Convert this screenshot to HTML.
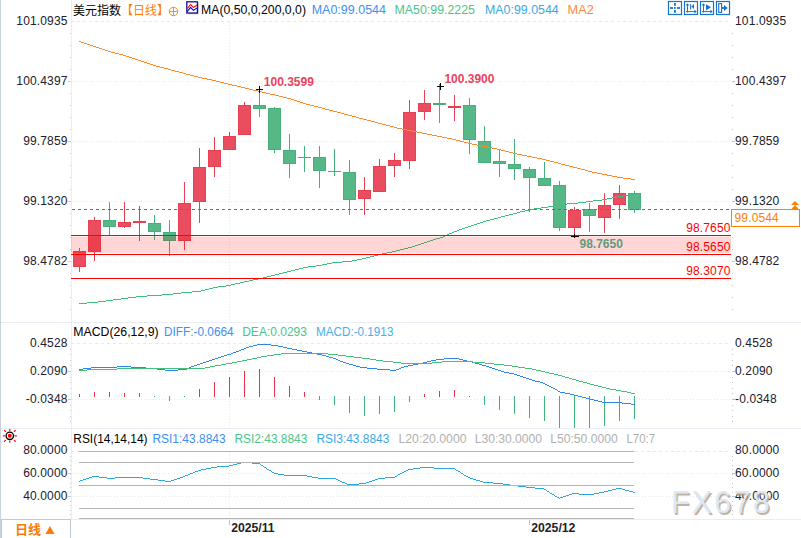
<!DOCTYPE html>
<html><head><meta charset="utf-8"><title>美元指数</title>
<style>
html,body{margin:0;padding:0;background:#fff;}
body{width:801px;height:538px;overflow:hidden;position:relative;}
svg{position:absolute;left:0;top:0;display:block;}
</style></head><body>
<svg width="801" height="538" viewBox="0 0 801 538" shape-rendering="crispEdges">
<rect x="0" y="0" width="1" height="538" fill="#c9d3dd"/>
<rect x="1" y="322" width="800" height="1" fill="#e8eef3"/>
<rect x="1" y="428" width="800" height="1" fill="#e8eef3"/>
<rect x="71" y="519" width="730" height="1" fill="#e8eef3"/>
<rect x="71" y="0" width="1" height="519" fill="#e9eef3"/>
<rect x="70" y="33" width="1" height="1" fill="#c5ced6"/>
<rect x="70" y="45" width="1" height="1" fill="#c5ced6"/>
<rect x="70" y="57" width="1" height="1" fill="#c5ced6"/>
<rect x="70" y="69" width="1" height="1" fill="#c5ced6"/>
<rect x="70" y="81" width="1" height="1" fill="#c5ced6"/>
<rect x="70" y="93" width="1" height="1" fill="#c5ced6"/>
<rect x="70" y="105" width="1" height="1" fill="#c5ced6"/>
<rect x="70" y="117" width="1" height="1" fill="#c5ced6"/>
<rect x="70" y="129" width="1" height="1" fill="#c5ced6"/>
<rect x="70" y="141" width="1" height="1" fill="#c5ced6"/>
<rect x="70" y="153" width="1" height="1" fill="#c5ced6"/>
<rect x="70" y="165" width="1" height="1" fill="#c5ced6"/>
<rect x="70" y="177" width="1" height="1" fill="#c5ced6"/>
<rect x="70" y="189" width="1" height="1" fill="#c5ced6"/>
<rect x="70" y="201" width="1" height="1" fill="#c5ced6"/>
<rect x="70" y="213" width="1" height="1" fill="#c5ced6"/>
<rect x="70" y="225" width="1" height="1" fill="#c5ced6"/>
<rect x="70" y="237" width="1" height="1" fill="#c5ced6"/>
<rect x="70" y="249" width="1" height="1" fill="#c5ced6"/>
<rect x="70" y="261" width="1" height="1" fill="#c5ced6"/>
<rect x="70" y="273" width="1" height="1" fill="#c5ced6"/>
<rect x="70" y="285" width="1" height="1" fill="#c5ced6"/>
<rect x="70" y="297" width="1" height="1" fill="#c5ced6"/>
<rect x="70" y="309" width="1" height="1" fill="#c5ced6"/>
<rect x="70" y="349" width="1" height="1" fill="#c5ced6"/>
<rect x="70" y="354" width="1" height="1" fill="#c5ced6"/>
<rect x="70" y="360" width="1" height="1" fill="#c5ced6"/>
<rect x="70" y="365" width="1" height="1" fill="#c5ced6"/>
<rect x="70" y="371" width="1" height="1" fill="#c5ced6"/>
<rect x="70" y="377" width="1" height="1" fill="#c5ced6"/>
<rect x="70" y="382" width="1" height="1" fill="#c5ced6"/>
<rect x="70" y="388" width="1" height="1" fill="#c5ced6"/>
<rect x="70" y="393" width="1" height="1" fill="#c5ced6"/>
<rect x="70" y="399" width="1" height="1" fill="#c5ced6"/>
<rect x="70" y="405" width="1" height="1" fill="#c5ced6"/>
<rect x="70" y="410" width="1" height="1" fill="#c5ced6"/>
<rect x="70" y="416" width="1" height="1" fill="#c5ced6"/>
<rect x="70" y="421" width="1" height="1" fill="#c5ced6"/>
<rect x="70" y="456" width="1" height="1" fill="#c5ced6"/>
<rect x="70" y="460" width="1" height="1" fill="#c5ced6"/>
<rect x="70" y="465" width="1" height="1" fill="#c5ced6"/>
<rect x="70" y="469" width="1" height="1" fill="#c5ced6"/>
<rect x="70" y="474" width="1" height="1" fill="#c5ced6"/>
<rect x="70" y="478" width="1" height="1" fill="#c5ced6"/>
<rect x="70" y="483" width="1" height="1" fill="#c5ced6"/>
<rect x="70" y="487" width="1" height="1" fill="#c5ced6"/>
<rect x="70" y="492" width="1" height="1" fill="#c5ced6"/>
<rect x="70" y="496" width="1" height="1" fill="#c5ced6"/>
<rect x="70" y="501" width="1" height="1" fill="#c5ced6"/>
<rect x="70" y="505" width="1" height="1" fill="#c5ced6"/>
<rect x="70" y="510" width="1" height="1" fill="#c5ced6"/>
<rect x="70" y="514" width="1" height="1" fill="#c5ced6"/>
<rect x="68" y="81" width="3" height="1" fill="#c5ced6"/>
<rect x="68" y="141" width="3" height="1" fill="#c5ced6"/>
<rect x="68" y="201" width="3" height="1" fill="#c5ced6"/>
<rect x="68" y="261" width="3" height="1" fill="#c5ced6"/>
<rect x="68" y="371" width="3" height="1" fill="#c5ced6"/>
<rect x="68" y="399" width="3" height="1" fill="#c5ced6"/>
<rect x="68" y="473" width="3" height="1" fill="#c5ced6"/>
<rect x="68" y="496" width="3" height="1" fill="#c5ced6"/>
<rect x="732" y="33" width="1" height="1" fill="#b8c2cc"/>
<rect x="732" y="45" width="1" height="1" fill="#b8c2cc"/>
<rect x="732" y="57" width="1" height="1" fill="#b8c2cc"/>
<rect x="732" y="69" width="1" height="1" fill="#b8c2cc"/>
<rect x="732" y="81" width="1" height="1" fill="#b8c2cc"/>
<rect x="732" y="93" width="1" height="1" fill="#b8c2cc"/>
<rect x="732" y="105" width="1" height="1" fill="#b8c2cc"/>
<rect x="732" y="117" width="1" height="1" fill="#b8c2cc"/>
<rect x="732" y="129" width="1" height="1" fill="#b8c2cc"/>
<rect x="732" y="141" width="1" height="1" fill="#b8c2cc"/>
<rect x="732" y="153" width="1" height="1" fill="#b8c2cc"/>
<rect x="732" y="165" width="1" height="1" fill="#b8c2cc"/>
<rect x="732" y="177" width="1" height="1" fill="#b8c2cc"/>
<rect x="732" y="189" width="1" height="1" fill="#b8c2cc"/>
<rect x="732" y="201" width="1" height="1" fill="#b8c2cc"/>
<rect x="732" y="213" width="1" height="1" fill="#b8c2cc"/>
<rect x="732" y="225" width="1" height="1" fill="#b8c2cc"/>
<rect x="732" y="237" width="1" height="1" fill="#b8c2cc"/>
<rect x="732" y="249" width="1" height="1" fill="#b8c2cc"/>
<rect x="732" y="261" width="1" height="1" fill="#b8c2cc"/>
<rect x="732" y="273" width="1" height="1" fill="#b8c2cc"/>
<rect x="732" y="285" width="1" height="1" fill="#b8c2cc"/>
<rect x="732" y="297" width="1" height="1" fill="#b8c2cc"/>
<rect x="732" y="309" width="1" height="1" fill="#b8c2cc"/>
<rect x="732" y="81" width="3" height="1" fill="#b8c2cc"/>
<rect x="732" y="141" width="3" height="1" fill="#b8c2cc"/>
<rect x="732" y="201" width="3" height="1" fill="#b8c2cc"/>
<rect x="732" y="261" width="3" height="1" fill="#b8c2cc"/>
<rect x="732" y="371" width="3" height="1" fill="#b8c2cc"/>
<rect x="732" y="399" width="3" height="1" fill="#b8c2cc"/>
<rect x="732" y="473" width="3" height="1" fill="#b8c2cc"/>
<rect x="732" y="496" width="3" height="1" fill="#b8c2cc"/>
<rect x="732" y="349" width="1" height="1" fill="#b8c2cc"/>
<rect x="732" y="354" width="1" height="1" fill="#b8c2cc"/>
<rect x="732" y="360" width="1" height="1" fill="#b8c2cc"/>
<rect x="732" y="365" width="1" height="1" fill="#b8c2cc"/>
<rect x="732" y="371" width="1" height="1" fill="#b8c2cc"/>
<rect x="732" y="377" width="1" height="1" fill="#b8c2cc"/>
<rect x="732" y="382" width="1" height="1" fill="#b8c2cc"/>
<rect x="732" y="388" width="1" height="1" fill="#b8c2cc"/>
<rect x="732" y="393" width="1" height="1" fill="#b8c2cc"/>
<rect x="732" y="399" width="1" height="1" fill="#b8c2cc"/>
<rect x="732" y="405" width="1" height="1" fill="#b8c2cc"/>
<rect x="732" y="410" width="1" height="1" fill="#b8c2cc"/>
<rect x="732" y="416" width="1" height="1" fill="#b8c2cc"/>
<rect x="732" y="421" width="1" height="1" fill="#b8c2cc"/>
<rect x="732" y="456" width="1" height="1" fill="#b8c2cc"/>
<rect x="732" y="460" width="1" height="1" fill="#b8c2cc"/>
<rect x="732" y="465" width="1" height="1" fill="#b8c2cc"/>
<rect x="732" y="469" width="1" height="1" fill="#b8c2cc"/>
<rect x="732" y="474" width="1" height="1" fill="#b8c2cc"/>
<rect x="732" y="478" width="1" height="1" fill="#b8c2cc"/>
<rect x="732" y="483" width="1" height="1" fill="#b8c2cc"/>
<rect x="732" y="487" width="1" height="1" fill="#b8c2cc"/>
<rect x="732" y="492" width="1" height="1" fill="#b8c2cc"/>
<rect x="732" y="496" width="1" height="1" fill="#b8c2cc"/>
<rect x="732" y="501" width="1" height="1" fill="#b8c2cc"/>
<rect x="732" y="505" width="1" height="1" fill="#b8c2cc"/>
<rect x="732" y="510" width="1" height="1" fill="#b8c2cc"/>
<rect x="732" y="514" width="1" height="1" fill="#b8c2cc"/>
<line x1="71" y1="21.5" x2="730" y2="21.5" stroke="#e3e9ef" stroke-width="1" stroke-dasharray="3 3"/>
<line x1="71" y1="343.5" x2="730" y2="343.5" stroke="#e3e9ef" stroke-width="1" stroke-dasharray="3 3"/>
<line x1="71" y1="451.5" x2="730" y2="451.5" stroke="#e3e9ef" stroke-width="1" stroke-dasharray="3 3"/>
<line x1="72" y1="81.5" x2="730" y2="81.5" stroke="#e4e9ee" stroke-width="1" stroke-dasharray="1 2"/>
<line x1="72" y1="141.5" x2="730" y2="141.5" stroke="#e4e9ee" stroke-width="1" stroke-dasharray="1 2"/>
<line x1="72" y1="201.5" x2="730" y2="201.5" stroke="#e4e9ee" stroke-width="1" stroke-dasharray="1 2"/>
<line x1="72" y1="261.5" x2="730" y2="261.5" stroke="#e4e9ee" stroke-width="1" stroke-dasharray="1 2"/>
<line x1="72" y1="371.5" x2="730" y2="371.5" stroke="#e4e9ee" stroke-width="1" stroke-dasharray="1 2"/>
<line x1="72" y1="399.5" x2="730" y2="399.5" stroke="#e4e9ee" stroke-width="1" stroke-dasharray="1 2"/>
<line x1="72" y1="473.5" x2="730" y2="473.5" stroke="#e4e9ee" stroke-width="1" stroke-dasharray="1 2"/>
<line x1="72" y1="496.5" x2="730" y2="496.5" stroke="#e4e9ee" stroke-width="1" stroke-dasharray="1 2"/>
<line x1="229.5" y1="22" x2="229.5" y2="322" stroke="#e1e7ed" stroke-width="1" stroke-dasharray="1 2"/>
<line x1="229.5" y1="344" x2="229.5" y2="428" stroke="#e1e7ed" stroke-width="1" stroke-dasharray="1 2"/>
<line x1="229.5" y1="452" x2="229.5" y2="519" stroke="#e1e7ed" stroke-width="1" stroke-dasharray="1 2"/>
<rect x="229" y="520" width="1" height="5" fill="#b8c2cc"/>
<rect x="529" y="520" width="1" height="5" fill="#b8c2cc"/>
<rect x="79" y="248" width="1" height="24" fill="#e8404f"/>
<rect x="73.5" y="251.5" width="12" height="15" fill="#ea4d5f" stroke="#e8404f" stroke-width="1"/>
<rect x="94" y="217" width="1" height="44" fill="#e8404f"/>
<rect x="88.5" y="220.5" width="12" height="31" fill="#ea4d5f" stroke="#e8404f" stroke-width="1"/>
<rect x="109" y="202" width="1" height="33" fill="#47af7a"/>
<rect x="103.5" y="220.5" width="12" height="6" fill="#55b886" stroke="#47af7a" stroke-width="1"/>
<rect x="124" y="202" width="1" height="26" fill="#e8404f"/>
<rect x="118.5" y="222.5" width="12" height="4" fill="#ea4d5f" stroke="#e8404f" stroke-width="1"/>
<rect x="139" y="206" width="1" height="35" fill="#e8404f"/>
<rect x="133" y="221" width="13" height="2" fill="#e8404f"/>
<rect x="154" y="215" width="1" height="25" fill="#47af7a"/>
<rect x="148.5" y="223.5" width="12" height="8" fill="#55b886" stroke="#47af7a" stroke-width="1"/>
<rect x="169" y="220" width="1" height="36" fill="#47af7a"/>
<rect x="163.5" y="232.5" width="12" height="8" fill="#55b886" stroke="#47af7a" stroke-width="1"/>
<rect x="184" y="182" width="1" height="68" fill="#e8404f"/>
<rect x="178.5" y="203.5" width="12" height="37" fill="#ea4d5f" stroke="#e8404f" stroke-width="1"/>
<rect x="199" y="148" width="1" height="75" fill="#e8404f"/>
<rect x="193.5" y="167.5" width="12" height="34" fill="#ea4d5f" stroke="#e8404f" stroke-width="1"/>
<rect x="214" y="137" width="1" height="40" fill="#e8404f"/>
<rect x="208.5" y="150.5" width="12" height="16" fill="#ea4d5f" stroke="#e8404f" stroke-width="1"/>
<rect x="229" y="132" width="1" height="18" fill="#e8404f"/>
<rect x="223.5" y="136.5" width="12" height="13" fill="#ea4d5f" stroke="#e8404f" stroke-width="1"/>
<rect x="244" y="102" width="1" height="33" fill="#e8404f"/>
<rect x="238.5" y="105.5" width="12" height="29" fill="#ea4d5f" stroke="#e8404f" stroke-width="1"/>
<rect x="259" y="90" width="1" height="27" fill="#47af7a"/>
<rect x="253.5" y="105.5" width="12" height="3" fill="#55b886" stroke="#47af7a" stroke-width="1"/>
<rect x="274" y="107" width="1" height="46" fill="#47af7a"/>
<rect x="268.5" y="108.5" width="12" height="41" fill="#55b886" stroke="#47af7a" stroke-width="1"/>
<rect x="289" y="134" width="1" height="44" fill="#47af7a"/>
<rect x="283.5" y="150.5" width="12" height="13" fill="#55b886" stroke="#47af7a" stroke-width="1"/>
<rect x="304" y="146" width="1" height="26" fill="#47af7a"/>
<rect x="298" y="157" width="13" height="1" fill="#47af7a"/>
<rect x="319" y="146" width="1" height="42" fill="#47af7a"/>
<rect x="313.5" y="157.5" width="12" height="13" fill="#55b886" stroke="#47af7a" stroke-width="1"/>
<rect x="334" y="149" width="1" height="27" fill="#47af7a"/>
<rect x="328" y="171" width="13" height="1" fill="#47af7a"/>
<rect x="349" y="160" width="1" height="55" fill="#47af7a"/>
<rect x="343.5" y="172.5" width="12" height="27" fill="#55b886" stroke="#47af7a" stroke-width="1"/>
<rect x="364" y="177" width="1" height="38" fill="#e8404f"/>
<rect x="358.5" y="190.5" width="12" height="8" fill="#ea4d5f" stroke="#e8404f" stroke-width="1"/>
<rect x="379" y="159" width="1" height="33" fill="#e8404f"/>
<rect x="373.5" y="166.5" width="12" height="25" fill="#ea4d5f" stroke="#e8404f" stroke-width="1"/>
<rect x="394" y="153" width="1" height="24" fill="#e8404f"/>
<rect x="388.5" y="160.5" width="12" height="5" fill="#ea4d5f" stroke="#e8404f" stroke-width="1"/>
<rect x="409" y="100" width="1" height="69" fill="#e8404f"/>
<rect x="403.5" y="112.5" width="12" height="48" fill="#ea4d5f" stroke="#e8404f" stroke-width="1"/>
<rect x="424" y="90" width="1" height="30" fill="#e8404f"/>
<rect x="418.5" y="103.5" width="12" height="8" fill="#ea4d5f" stroke="#e8404f" stroke-width="1"/>
<rect x="439" y="84" width="1" height="39" fill="#47af7a"/>
<rect x="433" y="103" width="13" height="2" fill="#47af7a"/>
<rect x="454" y="95" width="1" height="26" fill="#e8404f"/>
<rect x="448" y="106" width="13" height="2" fill="#e8404f"/>
<rect x="469" y="98" width="1" height="56" fill="#47af7a"/>
<rect x="463.5" y="105.5" width="12" height="34" fill="#55b886" stroke="#47af7a" stroke-width="1"/>
<rect x="484" y="126" width="1" height="37" fill="#47af7a"/>
<rect x="478.5" y="141.5" width="12" height="21" fill="#55b886" stroke="#47af7a" stroke-width="1"/>
<rect x="499" y="150" width="1" height="27" fill="#47af7a"/>
<rect x="493.5" y="161.5" width="12" height="2" fill="#55b886" stroke="#47af7a" stroke-width="1"/>
<rect x="514" y="139" width="1" height="41" fill="#47af7a"/>
<rect x="508.5" y="164.5" width="12" height="4" fill="#55b886" stroke="#47af7a" stroke-width="1"/>
<rect x="529" y="167" width="1" height="45" fill="#47af7a"/>
<rect x="523.5" y="169.5" width="12" height="8" fill="#55b886" stroke="#47af7a" stroke-width="1"/>
<rect x="544" y="162" width="1" height="24" fill="#47af7a"/>
<rect x="538.5" y="178.5" width="12" height="7" fill="#55b886" stroke="#47af7a" stroke-width="1"/>
<rect x="559" y="181" width="1" height="50" fill="#47af7a"/>
<rect x="553.5" y="185.5" width="12" height="42" fill="#55b886" stroke="#47af7a" stroke-width="1"/>
<rect x="574" y="207" width="1" height="29" fill="#e8404f"/>
<rect x="568.5" y="210.5" width="12" height="17" fill="#ea4d5f" stroke="#e8404f" stroke-width="1"/>
<rect x="589" y="203" width="1" height="29" fill="#47af7a"/>
<rect x="583.5" y="209.5" width="12" height="6" fill="#55b886" stroke="#47af7a" stroke-width="1"/>
<rect x="604" y="193" width="1" height="40" fill="#e8404f"/>
<rect x="598.5" y="205.5" width="12" height="12" fill="#ea4d5f" stroke="#e8404f" stroke-width="1"/>
<rect x="619" y="185" width="1" height="34" fill="#e8404f"/>
<rect x="613.5" y="193.5" width="12" height="11" fill="#ea4d5f" stroke="#e8404f" stroke-width="1"/>
<rect x="634" y="191" width="1" height="22" fill="#47af7a"/>
<rect x="628.5" y="193.5" width="12" height="16" fill="#55b886" stroke="#47af7a" stroke-width="1"/>
<g fill="#ff8a2a"><rect x="79" y="41" width="2" height="1"/><rect x="81" y="42" width="3" height="1"/><rect x="84" y="43" width="3" height="1"/><rect x="87" y="44" width="3" height="1"/><rect x="90" y="45" width="3" height="1"/><rect x="93" y="46" width="3" height="1"/><rect x="96" y="47" width="3" height="1"/><rect x="99" y="48" width="3" height="1"/><rect x="102" y="49" width="3" height="1"/><rect x="105" y="50" width="3" height="1"/><rect x="108" y="51" width="3" height="1"/><rect x="111" y="52" width="4" height="1"/><rect x="115" y="53" width="4" height="1"/><rect x="119" y="54" width="4" height="1"/><rect x="123" y="55" width="3" height="1"/><rect x="126" y="56" width="3" height="1"/><rect x="129" y="57" width="3" height="1"/><rect x="132" y="58" width="3" height="1"/><rect x="135" y="59" width="3" height="1"/><rect x="138" y="60" width="3" height="1"/><rect x="141" y="61" width="3" height="1"/><rect x="144" y="62" width="3" height="1"/><rect x="147" y="63" width="3" height="1"/><rect x="150" y="64" width="3" height="1"/><rect x="153" y="65" width="3" height="1"/><rect x="156" y="66" width="4" height="1"/><rect x="160" y="67" width="4" height="1"/><rect x="164" y="68" width="4" height="1"/><rect x="168" y="69" width="3" height="1"/><rect x="171" y="70" width="4" height="1"/><rect x="175" y="71" width="4" height="1"/><rect x="179" y="72" width="4" height="1"/><rect x="183" y="73" width="3" height="1"/><rect x="186" y="74" width="4" height="1"/><rect x="190" y="75" width="4" height="1"/><rect x="194" y="76" width="4" height="1"/><rect x="198" y="77" width="4" height="1"/><rect x="202" y="78" width="5" height="1"/><rect x="207" y="79" width="5" height="1"/><rect x="212" y="80" width="4" height="1"/><rect x="216" y="81" width="4" height="1"/><rect x="220" y="82" width="4" height="1"/><rect x="224" y="83" width="4" height="1"/><rect x="228" y="84" width="4" height="1"/><rect x="232" y="85" width="5" height="1"/><rect x="237" y="86" width="4" height="1"/><rect x="241" y="87" width="4" height="1"/><rect x="245" y="88" width="4" height="1"/><rect x="249" y="89" width="4" height="1"/><rect x="253" y="90" width="5" height="1"/><rect x="258" y="91" width="4" height="1"/><rect x="262" y="92" width="4" height="1"/><rect x="266" y="93" width="4" height="1"/><rect x="270" y="94" width="5" height="1"/><rect x="275" y="95" width="4" height="1"/><rect x="279" y="96" width="4" height="1"/><rect x="283" y="97" width="4" height="1"/><rect x="287" y="98" width="4" height="1"/><rect x="291" y="99" width="3" height="1"/><rect x="294" y="100" width="3" height="1"/><rect x="297" y="101" width="3" height="1"/><rect x="300" y="102" width="3" height="1"/><rect x="303" y="103" width="3" height="1"/><rect x="306" y="104" width="4" height="1"/><rect x="310" y="105" width="4" height="1"/><rect x="314" y="106" width="4" height="1"/><rect x="318" y="107" width="4" height="1"/><rect x="322" y="108" width="3" height="1"/><rect x="325" y="109" width="4" height="1"/><rect x="329" y="110" width="4" height="1"/><rect x="333" y="111" width="4" height="1"/><rect x="337" y="112" width="4" height="1"/><rect x="341" y="113" width="3" height="1"/><rect x="344" y="114" width="4" height="1"/><rect x="348" y="115" width="4" height="1"/><rect x="352" y="116" width="4" height="1"/><rect x="356" y="117" width="3" height="1"/><rect x="359" y="118" width="4" height="1"/><rect x="363" y="119" width="4" height="1"/><rect x="367" y="120" width="4" height="1"/><rect x="371" y="121" width="4" height="1"/><rect x="375" y="122" width="3" height="1"/><rect x="378" y="123" width="4" height="1"/><rect x="382" y="124" width="4" height="1"/><rect x="386" y="125" width="4" height="1"/><rect x="390" y="126" width="4" height="1"/><rect x="394" y="127" width="3" height="1"/><rect x="397" y="128" width="5" height="1"/><rect x="402" y="129" width="5" height="1"/><rect x="407" y="130" width="5" height="1"/><rect x="412" y="131" width="5" height="1"/><rect x="417" y="132" width="5" height="1"/><rect x="422" y="133" width="5" height="1"/><rect x="427" y="134" width="5" height="1"/><rect x="432" y="135" width="5" height="1"/><rect x="437" y="136" width="5" height="1"/><rect x="442" y="137" width="5" height="1"/><rect x="447" y="138" width="5" height="1"/><rect x="452" y="139" width="4" height="1"/><rect x="456" y="140" width="4" height="1"/><rect x="460" y="141" width="4" height="1"/><rect x="464" y="142" width="4" height="1"/><rect x="468" y="143" width="4" height="1"/><rect x="472" y="144" width="5" height="1"/><rect x="477" y="145" width="5" height="1"/><rect x="482" y="146" width="5" height="1"/><rect x="487" y="147" width="5" height="1"/><rect x="492" y="148" width="5" height="1"/><rect x="497" y="149" width="4" height="1"/><rect x="501" y="150" width="4" height="1"/><rect x="505" y="151" width="4" height="1"/><rect x="509" y="152" width="4" height="1"/><rect x="513" y="153" width="4" height="1"/><rect x="517" y="154" width="5" height="1"/><rect x="522" y="155" width="5" height="1"/><rect x="527" y="156" width="5" height="1"/><rect x="532" y="157" width="5" height="1"/><rect x="537" y="158" width="5" height="1"/><rect x="542" y="159" width="4" height="1"/><rect x="546" y="160" width="4" height="1"/><rect x="550" y="161" width="4" height="1"/><rect x="554" y="162" width="4" height="1"/><rect x="558" y="163" width="3" height="1"/><rect x="561" y="164" width="4" height="1"/><rect x="565" y="165" width="4" height="1"/><rect x="569" y="166" width="4" height="1"/><rect x="573" y="167" width="4" height="1"/><rect x="577" y="168" width="4" height="1"/><rect x="581" y="169" width="4" height="1"/><rect x="585" y="170" width="3" height="1"/><rect x="588" y="171" width="4" height="1"/><rect x="592" y="172" width="5" height="1"/><rect x="597" y="173" width="5" height="1"/><rect x="602" y="174" width="5" height="1"/><rect x="607" y="175" width="5" height="1"/><rect x="612" y="176" width="5" height="1"/><rect x="617" y="177" width="6" height="1"/><rect x="623" y="178" width="8" height="1"/><rect x="631" y="179" width="4" height="1"/></g>
<g fill="#3fbf7f"><rect x="79" y="303" width="8" height="1"/><rect x="87" y="302" width="11" height="1"/><rect x="98" y="301" width="8" height="1"/><rect x="106" y="300" width="7" height="1"/><rect x="113" y="299" width="8" height="1"/><rect x="121" y="298" width="7" height="1"/><rect x="128" y="297" width="8" height="1"/><rect x="136" y="296" width="11" height="1"/><rect x="147" y="295" width="15" height="1"/><rect x="162" y="294" width="11" height="1"/><rect x="173" y="293" width="8" height="1"/><rect x="181" y="292" width="11" height="1"/><rect x="192" y="291" width="9" height="1"/><rect x="201" y="290" width="4" height="1"/><rect x="205" y="289" width="4" height="1"/><rect x="209" y="288" width="4" height="1"/><rect x="213" y="287" width="5" height="1"/><rect x="218" y="286" width="8" height="1"/><rect x="226" y="285" width="5" height="1"/><rect x="231" y="284" width="4" height="1"/><rect x="235" y="283" width="5" height="1"/><rect x="240" y="282" width="4" height="1"/><rect x="244" y="281" width="5" height="1"/><rect x="249" y="280" width="4" height="1"/><rect x="253" y="279" width="5" height="1"/><rect x="258" y="278" width="5" height="1"/><rect x="263" y="277" width="4" height="1"/><rect x="267" y="276" width="4" height="1"/><rect x="271" y="275" width="4" height="1"/><rect x="275" y="274" width="4" height="1"/><rect x="279" y="273" width="4" height="1"/><rect x="283" y="272" width="4" height="1"/><rect x="287" y="271" width="4" height="1"/><rect x="291" y="270" width="4" height="1"/><rect x="295" y="269" width="4" height="1"/><rect x="299" y="268" width="4" height="1"/><rect x="303" y="267" width="5" height="1"/><rect x="308" y="266" width="8" height="1"/><rect x="316" y="265" width="6" height="1"/><rect x="322" y="264" width="5" height="1"/><rect x="327" y="263" width="5" height="1"/><rect x="332" y="262" width="10" height="1"/><rect x="342" y="261" width="10" height="1"/><rect x="352" y="260" width="5" height="1"/><rect x="357" y="259" width="5" height="1"/><rect x="362" y="258" width="4" height="1"/><rect x="366" y="257" width="4" height="1"/><rect x="370" y="256" width="4" height="1"/><rect x="374" y="255" width="4" height="1"/><rect x="378" y="254" width="4" height="1"/><rect x="382" y="253" width="5" height="1"/><rect x="387" y="252" width="5" height="1"/><rect x="392" y="251" width="4" height="1"/><rect x="396" y="250" width="4" height="1"/><rect x="400" y="249" width="4" height="1"/><rect x="404" y="248" width="4" height="1"/><rect x="408" y="247" width="4" height="1"/><rect x="412" y="246" width="3" height="1"/><rect x="415" y="245" width="3" height="1"/><rect x="418" y="244" width="3" height="1"/><rect x="421" y="243" width="3" height="1"/><rect x="424" y="242" width="3" height="1"/><rect x="427" y="241" width="3" height="1"/><rect x="430" y="240" width="3" height="1"/><rect x="433" y="239" width="3" height="1"/><rect x="436" y="238" width="4" height="1"/><rect x="440" y="237" width="3" height="1"/><rect x="443" y="236" width="2" height="1"/><rect x="445" y="235" width="2" height="1"/><rect x="447" y="234" width="2" height="1"/><rect x="449" y="233" width="3" height="1"/><rect x="452" y="232" width="2" height="1"/><rect x="454" y="231" width="3" height="1"/><rect x="457" y="230" width="2" height="1"/><rect x="459" y="229" width="3" height="1"/><rect x="462" y="228" width="3" height="1"/><rect x="465" y="227" width="3" height="1"/><rect x="468" y="226" width="3" height="1"/><rect x="471" y="225" width="3" height="1"/><rect x="474" y="224" width="3" height="1"/><rect x="477" y="223" width="3" height="1"/><rect x="480" y="222" width="3" height="1"/><rect x="483" y="221" width="3" height="1"/><rect x="486" y="220" width="4" height="1"/><rect x="490" y="219" width="4" height="1"/><rect x="494" y="218" width="4" height="1"/><rect x="498" y="217" width="3" height="1"/><rect x="501" y="216" width="4" height="1"/><rect x="505" y="215" width="4" height="1"/><rect x="509" y="214" width="4" height="1"/><rect x="513" y="213" width="4" height="1"/><rect x="517" y="212" width="3" height="1"/><rect x="520" y="211" width="5" height="1"/><rect x="525" y="210" width="4" height="1"/><rect x="529" y="209" width="5" height="1"/><rect x="534" y="208" width="7" height="1"/><rect x="541" y="207" width="7" height="1"/><rect x="548" y="206" width="6" height="1"/><rect x="554" y="205" width="6" height="1"/><rect x="560" y="204" width="7" height="1"/><rect x="567" y="203" width="11" height="1"/><rect x="578" y="202" width="8" height="1"/><rect x="586" y="201" width="7" height="1"/><rect x="593" y="200" width="9" height="1"/><rect x="602" y="199" width="5" height="1"/><rect x="607" y="198" width="5" height="1"/><rect x="612" y="197" width="5" height="1"/><rect x="617" y="196" width="6" height="1"/><rect x="623" y="195" width="7" height="1"/><rect x="630" y="194" width="5" height="1"/></g>
<rect x="71" y="236" width="660" height="1" fill="rgba(255,0,0,0.09)"/>
<rect x="71" y="237" width="660" height="16" fill="rgba(255,0,0,0.16)"/>
<rect x="71" y="235" width="660" height="1" fill="#ff0000"/>
<rect x="71" y="254" width="660" height="1" fill="#ff0000"/>
<rect x="71" y="278" width="660" height="1" fill="#ff0000"/>
<line x1="72" y1="209.5" x2="731" y2="209.5" stroke="#1e80f0" stroke-width="1" stroke-dasharray="3 3"/>
<rect x="256" y="89" width="7" height="1" fill="#000"/><rect x="259" y="86" width="1" height="7" fill="#000"/>
<rect x="437" y="86" width="7" height="1" fill="#000"/><rect x="440" y="83" width="1" height="7" fill="#000"/>
<rect x="571" y="236" width="8" height="1" fill="#000"/><rect x="574" y="234" width="1" height="4" fill="#000"/>
<rect x="79" y="394.0" width="1" height="3.0" fill="#e8324a"/>
<rect x="94" y="392.0" width="1" height="5.0" fill="#e8324a"/>
<rect x="109" y="392.0" width="1" height="5.0" fill="#e8324a"/>
<rect x="124" y="393.0" width="1" height="4.0" fill="#e8324a"/>
<rect x="139" y="393.0" width="1" height="4.0" fill="#e8324a"/>
<rect x="154" y="396" width="1" height="1.0" fill="#3fb478"/>
<rect x="169" y="396" width="1" height="4.5" fill="#3fb478"/>
<rect x="184" y="396" width="1" height="1.0" fill="#3fb478"/>
<rect x="199" y="388.8" width="1" height="8.2" fill="#e8324a"/>
<rect x="214" y="381.8" width="1" height="15.2" fill="#e8324a"/>
<rect x="229" y="377.0" width="1" height="20.0" fill="#e8324a"/>
<rect x="244" y="371.2" width="1" height="25.8" fill="#e8324a"/>
<rect x="259" y="368.8" width="1" height="28.2" fill="#e8324a"/>
<rect x="274" y="377.0" width="1" height="20.0" fill="#e8324a"/>
<rect x="289" y="385.8" width="1" height="11.2" fill="#e8324a"/>
<rect x="304" y="392.0" width="1" height="5.0" fill="#e8324a"/>
<rect x="319" y="396" width="1" height="3.5" fill="#3fb478"/>
<rect x="334" y="396" width="1" height="8.5" fill="#3fb478"/>
<rect x="349" y="396" width="1" height="17.0" fill="#3fb478"/>
<rect x="364" y="396" width="1" height="20.0" fill="#3fb478"/>
<rect x="379" y="396" width="1" height="18.0" fill="#3fb478"/>
<rect x="394" y="396" width="1" height="16.0" fill="#3fb478"/>
<rect x="409" y="396" width="1" height="6.0" fill="#3fb478"/>
<rect x="424" y="394.0" width="1" height="3.0" fill="#e8324a"/>
<rect x="439" y="391.4" width="1" height="5.6" fill="#e8324a"/>
<rect x="454" y="390.0" width="1" height="7.0" fill="#e8324a"/>
<rect x="469" y="396.0" width="1" height="1.0" fill="#e8324a"/>
<rect x="484" y="396" width="1" height="9.0" fill="#3fb478"/>
<rect x="499" y="396" width="1" height="13.6" fill="#3fb478"/>
<rect x="514" y="396" width="1" height="17.6" fill="#3fb478"/>
<rect x="529" y="396" width="1" height="21.6" fill="#3fb478"/>
<rect x="544" y="396" width="1" height="24.6" fill="#3fb478"/>
<rect x="559" y="396" width="1" height="32.0" fill="#3fb478"/>
<rect x="574" y="396" width="1" height="32.0" fill="#3fb478"/>
<rect x="589" y="396" width="1" height="32.0" fill="#3fb478"/>
<rect x="604" y="396" width="1" height="29.6" fill="#3fb478"/>
<rect x="619" y="396" width="1" height="24.6" fill="#3fb478"/>
<rect x="634" y="396" width="1" height="22.6" fill="#3fb478"/>
<g fill="#2f86ea"><rect x="79" y="369" width="4" height="1"/><rect x="83" y="368" width="8" height="1"/><rect x="91" y="367" width="26" height="1"/><rect x="117" y="366" width="14" height="1"/><rect x="131" y="367" width="15" height="1"/><rect x="146" y="368" width="11" height="1"/><rect x="157" y="369" width="8" height="1"/><rect x="165" y="370" width="13" height="1"/><rect x="178" y="369" width="9" height="1"/><rect x="187" y="368" width="2" height="1"/><rect x="189" y="367" width="2" height="1"/><rect x="191" y="366" width="3" height="1"/><rect x="194" y="365" width="3" height="1"/><rect x="197" y="364" width="3" height="1"/><rect x="200" y="363" width="3" height="1"/><rect x="203" y="362" width="3" height="1"/><rect x="206" y="361" width="3" height="1"/><rect x="209" y="360" width="3" height="1"/><rect x="212" y="359" width="3" height="1"/><rect x="215" y="358" width="3" height="1"/><rect x="218" y="357" width="3" height="1"/><rect x="221" y="356" width="3" height="1"/><rect x="224" y="355" width="3" height="1"/><rect x="227" y="354" width="4" height="1"/><rect x="231" y="353" width="2" height="1"/><rect x="233" y="352" width="3" height="1"/><rect x="236" y="351" width="3" height="1"/><rect x="239" y="350" width="2" height="1"/><rect x="241" y="349" width="3" height="1"/><rect x="244" y="348" width="2" height="1"/><rect x="246" y="347" width="3" height="1"/><rect x="249" y="346" width="4" height="1"/><rect x="253" y="345" width="4" height="1"/><rect x="257" y="344" width="14" height="1"/><rect x="271" y="345" width="7" height="1"/><rect x="278" y="346" width="5" height="1"/><rect x="283" y="347" width="4" height="1"/><rect x="287" y="348" width="5" height="1"/><rect x="292" y="349" width="5" height="1"/><rect x="297" y="350" width="5" height="1"/><rect x="302" y="351" width="5" height="1"/><rect x="307" y="352" width="5" height="1"/><rect x="312" y="353" width="5" height="1"/><rect x="317" y="354" width="5" height="1"/><rect x="322" y="355" width="4" height="1"/><rect x="326" y="356" width="3" height="1"/><rect x="329" y="357" width="4" height="1"/><rect x="333" y="358" width="3" height="1"/><rect x="336" y="359" width="2" height="1"/><rect x="338" y="360" width="2" height="1"/><rect x="340" y="361" width="3" height="1"/><rect x="343" y="362" width="3" height="1"/><rect x="346" y="363" width="3" height="1"/><rect x="349" y="364" width="4" height="1"/><rect x="353" y="365" width="3" height="1"/><rect x="356" y="366" width="4" height="1"/><rect x="360" y="367" width="7" height="1"/><rect x="367" y="368" width="10" height="1"/><rect x="377" y="369" width="13" height="1"/><rect x="390" y="370" width="6" height="1"/><rect x="396" y="369" width="3" height="1"/><rect x="399" y="368" width="2" height="1"/><rect x="401" y="367" width="3" height="1"/><rect x="404" y="366" width="4" height="1"/><rect x="408" y="365" width="5" height="1"/><rect x="413" y="364" width="5" height="1"/><rect x="418" y="363" width="5" height="1"/><rect x="423" y="362" width="4" height="1"/><rect x="427" y="361" width="4" height="1"/><rect x="431" y="360" width="5" height="1"/><rect x="436" y="359" width="8" height="1"/><rect x="444" y="358" width="15" height="1"/><rect x="459" y="359" width="4" height="1"/><rect x="463" y="360" width="4" height="1"/><rect x="467" y="361" width="5" height="1"/><rect x="472" y="362" width="3" height="1"/><rect x="475" y="363" width="4" height="1"/><rect x="479" y="364" width="3" height="1"/><rect x="482" y="365" width="4" height="1"/><rect x="486" y="366" width="3" height="1"/><rect x="489" y="367" width="3" height="1"/><rect x="492" y="368" width="3" height="1"/><rect x="495" y="369" width="3" height="1"/><rect x="498" y="370" width="3" height="1"/><rect x="501" y="371" width="3" height="1"/><rect x="504" y="372" width="5" height="1"/><rect x="509" y="373" width="5" height="1"/><rect x="514" y="374" width="3" height="1"/><rect x="517" y="375" width="3" height="1"/><rect x="520" y="376" width="3" height="1"/><rect x="523" y="377" width="3" height="1"/><rect x="526" y="378" width="3" height="1"/><rect x="529" y="379" width="3" height="1"/><rect x="532" y="380" width="3" height="1"/><rect x="535" y="381" width="5" height="1"/><rect x="540" y="382" width="3" height="1"/><rect x="543" y="383" width="2" height="1"/><rect x="545" y="384" width="2" height="1"/><rect x="547" y="385" width="2" height="1"/><rect x="549" y="386" width="2" height="1"/><rect x="551" y="387" width="2" height="1"/><rect x="553" y="388" width="2" height="1"/><rect x="555" y="389" width="2" height="1"/><rect x="557" y="390" width="1" height="1"/><rect x="558" y="391" width="2" height="1"/><rect x="560" y="392" width="5" height="1"/><rect x="565" y="393" width="5" height="1"/><rect x="570" y="394" width="4" height="1"/><rect x="574" y="395" width="4" height="1"/><rect x="578" y="396" width="4" height="1"/><rect x="582" y="397" width="4" height="1"/><rect x="586" y="398" width="4" height="1"/><rect x="590" y="399" width="4" height="1"/><rect x="594" y="400" width="4" height="1"/><rect x="598" y="401" width="4" height="1"/><rect x="602" y="402" width="20" height="1"/><rect x="622" y="403" width="9" height="1"/><rect x="631" y="404" width="4" height="1"/></g>
<g fill="#45bf7c"><rect x="79" y="370" width="8" height="1"/><rect x="87" y="369" width="30" height="1"/><rect x="117" y="368" width="88" height="1"/><rect x="205" y="367" width="5" height="1"/><rect x="210" y="366" width="5" height="1"/><rect x="215" y="365" width="6" height="1"/><rect x="221" y="364" width="5" height="1"/><rect x="226" y="363" width="6" height="1"/><rect x="232" y="362" width="5" height="1"/><rect x="237" y="361" width="5" height="1"/><rect x="242" y="360" width="5" height="1"/><rect x="247" y="359" width="5" height="1"/><rect x="252" y="358" width="5" height="1"/><rect x="257" y="357" width="4" height="1"/><rect x="261" y="356" width="6" height="1"/><rect x="267" y="355" width="7" height="1"/><rect x="274" y="354" width="7" height="1"/><rect x="281" y="353" width="47" height="1"/><rect x="328" y="354" width="10" height="1"/><rect x="338" y="355" width="8" height="1"/><rect x="346" y="356" width="8" height="1"/><rect x="354" y="357" width="8" height="1"/><rect x="362" y="358" width="8" height="1"/><rect x="370" y="359" width="6" height="1"/><rect x="376" y="360" width="7" height="1"/><rect x="383" y="361" width="10" height="1"/><rect x="393" y="362" width="8" height="1"/><rect x="401" y="363" width="31" height="1"/><rect x="432" y="362" width="10" height="1"/><rect x="442" y="361" width="31" height="1"/><rect x="473" y="362" width="12" height="1"/><rect x="485" y="363" width="9" height="1"/><rect x="494" y="364" width="10" height="1"/><rect x="504" y="365" width="8" height="1"/><rect x="512" y="366" width="6" height="1"/><rect x="518" y="367" width="7" height="1"/><rect x="525" y="368" width="7" height="1"/><rect x="532" y="369" width="4" height="1"/><rect x="536" y="370" width="5" height="1"/><rect x="541" y="371" width="4" height="1"/><rect x="545" y="372" width="4" height="1"/><rect x="549" y="373" width="5" height="1"/><rect x="554" y="374" width="4" height="1"/><rect x="558" y="375" width="4" height="1"/><rect x="562" y="376" width="3" height="1"/><rect x="565" y="377" width="4" height="1"/><rect x="569" y="378" width="3" height="1"/><rect x="572" y="379" width="4" height="1"/><rect x="576" y="380" width="3" height="1"/><rect x="579" y="381" width="4" height="1"/><rect x="583" y="382" width="4" height="1"/><rect x="587" y="383" width="3" height="1"/><rect x="590" y="384" width="4" height="1"/><rect x="594" y="385" width="4" height="1"/><rect x="598" y="386" width="4" height="1"/><rect x="602" y="387" width="4" height="1"/><rect x="606" y="388" width="4" height="1"/><rect x="610" y="389" width="6" height="1"/><rect x="616" y="390" width="5" height="1"/><rect x="621" y="391" width="6" height="1"/><rect x="627" y="392" width="4" height="1"/><rect x="631" y="393" width="4" height="1"/></g>
<g fill="#2ea8dc"><rect x="79" y="481" width="1" height="1"/><rect x="80" y="480" width="3" height="1"/><rect x="83" y="479" width="3" height="1"/><rect x="86" y="478" width="3" height="1"/><rect x="89" y="477" width="3" height="1"/><rect x="92" y="476" width="7" height="1"/><rect x="99" y="477" width="8" height="1"/><rect x="107" y="478" width="8" height="1"/><rect x="115" y="477" width="28" height="1"/><rect x="143" y="478" width="7" height="1"/><rect x="150" y="479" width="8" height="1"/><rect x="158" y="480" width="7" height="1"/><rect x="165" y="481" width="6" height="1"/><rect x="171" y="480" width="3" height="1"/><rect x="174" y="479" width="3" height="1"/><rect x="177" y="478" width="3" height="1"/><rect x="180" y="477" width="3" height="1"/><rect x="183" y="476" width="2" height="1"/><rect x="185" y="475" width="3" height="1"/><rect x="188" y="474" width="2" height="1"/><rect x="190" y="473" width="3" height="1"/><rect x="193" y="472" width="2" height="1"/><rect x="195" y="471" width="3" height="1"/><rect x="198" y="470" width="3" height="1"/><rect x="201" y="469" width="5" height="1"/><rect x="206" y="468" width="5" height="1"/><rect x="211" y="467" width="6" height="1"/><rect x="217" y="466" width="12" height="1"/><rect x="229" y="465" width="4" height="1"/><rect x="233" y="464" width="4" height="1"/><rect x="237" y="463" width="4" height="1"/><rect x="241" y="462" width="11" height="1"/><rect x="252" y="463" width="8" height="1"/><rect x="260" y="464" width="1" height="1"/><rect x="261" y="465" width="2" height="1"/><rect x="263" y="466" width="1" height="1"/><rect x="264" y="467" width="2" height="1"/><rect x="266" y="468" width="1" height="1"/><rect x="267" y="469" width="2" height="1"/><rect x="269" y="470" width="2" height="1"/><rect x="271" y="471" width="1" height="1"/><rect x="272" y="472" width="2" height="1"/><rect x="274" y="473" width="4" height="1"/><rect x="278" y="474" width="6" height="1"/><rect x="284" y="475" width="23" height="1"/><rect x="307" y="476" width="5" height="1"/><rect x="312" y="477" width="6" height="1"/><rect x="318" y="478" width="18" height="1"/><rect x="336" y="479" width="2" height="1"/><rect x="338" y="480" width="2" height="1"/><rect x="340" y="481" width="2" height="1"/><rect x="342" y="482" width="3" height="1"/><rect x="345" y="483" width="2" height="1"/><rect x="347" y="484" width="12" height="1"/><rect x="359" y="483" width="7" height="1"/><rect x="366" y="482" width="3" height="1"/><rect x="369" y="481" width="3" height="1"/><rect x="372" y="480" width="3" height="1"/><rect x="375" y="479" width="3" height="1"/><rect x="378" y="478" width="7" height="1"/><rect x="385" y="477" width="10" height="1"/><rect x="395" y="476" width="2" height="1"/><rect x="397" y="475" width="1" height="1"/><rect x="398" y="474" width="2" height="1"/><rect x="400" y="473" width="2" height="1"/><rect x="402" y="472" width="2" height="1"/><rect x="404" y="471" width="2" height="1"/><rect x="406" y="470" width="2" height="1"/><rect x="408" y="469" width="5" height="1"/><rect x="413" y="468" width="7" height="1"/><rect x="420" y="467" width="14" height="1"/><rect x="434" y="468" width="21" height="1"/><rect x="455" y="469" width="1" height="1"/><rect x="456" y="470" width="2" height="1"/><rect x="458" y="471" width="2" height="1"/><rect x="460" y="472" width="1" height="1"/><rect x="461" y="473" width="2" height="1"/><rect x="463" y="474" width="1" height="1"/><rect x="464" y="475" width="2" height="1"/><rect x="466" y="476" width="2" height="1"/><rect x="468" y="477" width="2" height="1"/><rect x="470" y="478" width="3" height="1"/><rect x="473" y="479" width="3" height="1"/><rect x="476" y="480" width="4" height="1"/><rect x="480" y="481" width="3" height="1"/><rect x="483" y="482" width="10" height="1"/><rect x="493" y="483" width="10" height="1"/><rect x="503" y="484" width="7" height="1"/><rect x="510" y="485" width="8" height="1"/><rect x="518" y="486" width="8" height="1"/><rect x="526" y="487" width="9" height="1"/><rect x="535" y="488" width="9" height="1"/><rect x="544" y="489" width="2" height="1"/><rect x="546" y="490" width="1" height="1"/><rect x="547" y="491" width="2" height="1"/><rect x="549" y="492" width="1" height="1"/><rect x="550" y="493" width="2" height="1"/><rect x="552" y="494" width="2" height="1"/><rect x="554" y="495" width="1" height="1"/><rect x="555" y="496" width="2" height="1"/><rect x="557" y="497" width="2" height="1"/><rect x="559" y="498" width="1" height="1"/><rect x="560" y="497" width="3" height="1"/><rect x="563" y="496" width="3" height="1"/><rect x="566" y="495" width="3" height="1"/><rect x="569" y="494" width="3" height="1"/><rect x="572" y="493" width="7" height="1"/><rect x="579" y="494" width="15" height="1"/><rect x="594" y="493" width="5" height="1"/><rect x="599" y="492" width="5" height="1"/><rect x="604" y="491" width="4" height="1"/><rect x="608" y="490" width="4" height="1"/><rect x="612" y="489" width="4" height="1"/><rect x="616" y="488" width="6" height="1"/><rect x="622" y="489" width="3" height="1"/><rect x="625" y="490" width="4" height="1"/><rect x="629" y="491" width="4" height="1"/><rect x="633" y="492" width="2" height="1"/></g>
<rect x="79" y="451" width="555" height="1" fill="#b4b4b4"/>
<rect x="79" y="462" width="555" height="1" fill="#b4b4b4"/>
<rect x="79" y="485" width="555" height="1" fill="#b4b4b4"/>
<rect x="79" y="508" width="555" height="1" fill="#b4b4b4"/>
<rect x="79" y="518" width="555" height="1" fill="#b4b4b4"/>
<rect x="731.5" y="209.5" width="67.5" height="17" fill="#fff" stroke="#ff8000" stroke-width="1"/>
<polygon points="791,205 795,201 799,205" fill="#ff8000" shape-rendering="auto"/>
<polygon points="791,209.5 795,205 799,209.5" fill="#ff8000" shape-rendering="auto"/>
<rect x="1.5" y="519.5" width="69" height="20" fill="#fff" stroke="#c0cad4" stroke-width="1"/>
<g shape-rendering="auto"><circle cx="9.8" cy="435.8" r="3.7" fill="none" stroke="#000" stroke-width="1.3"/><circle cx="9.8" cy="435.8" r="2" fill="#ff0000"/><g stroke="#ff0000" stroke-width="1.2" stroke-linecap="round"><line x1="9.8" y1="429.4" x2="9.8" y2="430.6"/><line x1="9.8" y1="441" x2="9.8" y2="442.2"/><line x1="3.4" y1="435.8" x2="4.6" y2="435.8"/><line x1="15" y1="435.8" x2="16.4" y2="435.8"/><line x1="4.4" y1="430.4" x2="5.4" y2="431.4"/><line x1="14.3" y1="440.3" x2="15.3" y2="441.3"/><line x1="15.3" y1="430.4" x2="14.3" y2="431.4"/><line x1="5.4" y1="440.3" x2="4.4" y2="441.3"/></g></g>
<g shape-rendering="auto" stroke="#ff8c1a" stroke-width="1" fill="none"><circle cx="173.5" cy="11.5" r="4.2"/><line x1="169.3" y1="11.5" x2="177.7" y2="11.5"/><line x1="173.5" y1="7.3" x2="173.5" y2="15.7"/></g>
<g shape-rendering="auto"><rect x="187.6" y="2.6" width="11" height="11.6" fill="#555" opacity="0.45"/><rect x="186.8" y="1.8" width="10.6" height="11.2" fill="#fff" stroke="#14148a" stroke-width="1.3"/><polyline points="187.2,8.7 190.6,4.5 193.4,7.4 196.9,5.3" fill="none" stroke="#ff0000" stroke-width="1.1"/><polyline points="187.2,11.7 190.6,7.3 193.4,10.3 196.9,8.1" fill="none" stroke="#0000ff" stroke-width="1.1"/></g>
<g shape-rendering="auto">
<rect x="668.5" y="1.5" width="13" height="13" fill="#fff" stroke="#1a73c8" stroke-width="1.2"/>
<g fill="#1a73c8"><rect x="674" y="3" width="1.8" height="2.8"/><rect x="674" y="10" width="1.8" height="2.8"/><rect x="670" y="7.1" width="3" height="1.8"/><rect x="677" y="7.1" width="3" height="1.8"/><rect x="674" y="7.1" width="1.8" height="1.8"/></g>
<rect x="684.5" y="1.5" width="13" height="13" fill="#fff" stroke="#1a73c8" stroke-width="1.2"/>
<g stroke="#1a73c8" stroke-width="1" fill="#1a73c8"><line x1="687.5" y1="4" x2="687.5" y2="12.5"/><line x1="686" y1="11.6" x2="695.5" y2="11.6"/><polygon points="686.2,5.2 687.5,3.6 688.8,5.2" stroke-width="0.6"/><polygon points="694.6,10.3 696.3,11.6 694.6,12.9" stroke-width="0.6"/><line x1="690.6" y1="4" x2="690.6" y2="9.5"/><polygon points="694,4 694,9 691.3,6.5" stroke="none"/></g>
<rect x="700.5" y="1.5" width="13" height="13" fill="#fff" stroke="#1a73c8" stroke-width="1.2"/>
<g stroke="#1a73c8" stroke-width="1" fill="#1a73c8"><line x1="703.5" y1="4" x2="703.5" y2="12.5"/><line x1="702" y1="11.6" x2="711.5" y2="11.6"/><polygon points="702.2,5.2 703.5,3.6 704.8,5.2" stroke-width="0.6"/><polygon points="710.6,10.3 712.3,11.6 710.6,12.9" stroke-width="0.6"/><polygon points="706,4.2 706,10.4 711,7.3" stroke="none"/></g>
<rect x="716.5" y="1.5" width="13" height="13" fill="#fff" stroke="#1a73c8" stroke-width="1.2"/>
<g stroke="#1a73c8" stroke-width="1.1" fill="none"><rect x="718.7" y="3.6" width="2.9" height="8.8"/></g><rect x="721.6" y="7.1" width="3" height="1.8" fill="#1a73c8"/><polygon points="724,4.9 727.7,7.9 724,10.9" fill="#1a73c8"/>
</g>
<polygon points="45.5,534 50,526 54.5,534" fill="#ff7a00" shape-rendering="auto"/>
<g>
<text x="67.6" y="24.8" fill="#20202c" font-size="12" text-anchor="end" font-weight="normal" font-family='"Liberation Sans","Noto Sans CJK SC",sans-serif' letter-spacing="0.15">101.0935</text>
<text x="735" y="24.8" fill="#20202c" font-size="12" text-anchor="start" font-weight="normal" font-family='"Liberation Sans","Noto Sans CJK SC",sans-serif' letter-spacing="0.15">101.0935</text>
<text x="67.6" y="84.8" fill="#20202c" font-size="12" text-anchor="end" font-weight="normal" font-family='"Liberation Sans","Noto Sans CJK SC",sans-serif' letter-spacing="0.15">100.4397</text>
<text x="735" y="84.8" fill="#20202c" font-size="12" text-anchor="start" font-weight="normal" font-family='"Liberation Sans","Noto Sans CJK SC",sans-serif' letter-spacing="0.15">100.4397</text>
<text x="67.6" y="144.8" fill="#20202c" font-size="12" text-anchor="end" font-weight="normal" font-family='"Liberation Sans","Noto Sans CJK SC",sans-serif' letter-spacing="0.15">99.7859</text>
<text x="735" y="144.8" fill="#20202c" font-size="12" text-anchor="start" font-weight="normal" font-family='"Liberation Sans","Noto Sans CJK SC",sans-serif' letter-spacing="0.15">99.7859</text>
<text x="67.6" y="204.8" fill="#20202c" font-size="12" text-anchor="end" font-weight="normal" font-family='"Liberation Sans","Noto Sans CJK SC",sans-serif' letter-spacing="0.15">99.1320</text>
<text x="735" y="204.8" fill="#20202c" font-size="12" text-anchor="start" font-weight="normal" font-family='"Liberation Sans","Noto Sans CJK SC",sans-serif' letter-spacing="0.15">99.1320</text>
<text x="67.6" y="264.8" fill="#20202c" font-size="12" text-anchor="end" font-weight="normal" font-family='"Liberation Sans","Noto Sans CJK SC",sans-serif' letter-spacing="0.15">98.4782</text>
<text x="735" y="264.8" fill="#20202c" font-size="12" text-anchor="start" font-weight="normal" font-family='"Liberation Sans","Noto Sans CJK SC",sans-serif' letter-spacing="0.15">98.4782</text>
<text x="67.6" y="346.8" fill="#20202c" font-size="12" text-anchor="end" font-weight="normal" font-family='"Liberation Sans","Noto Sans CJK SC",sans-serif' letter-spacing="0.15">0.4528</text>
<text x="735" y="346.8" fill="#20202c" font-size="12" text-anchor="start" font-weight="normal" font-family='"Liberation Sans","Noto Sans CJK SC",sans-serif' letter-spacing="0.15">0.4528</text>
<text x="67.6" y="374.8" fill="#20202c" font-size="12" text-anchor="end" font-weight="normal" font-family='"Liberation Sans","Noto Sans CJK SC",sans-serif' letter-spacing="0.15">0.2090</text>
<text x="735" y="374.8" fill="#20202c" font-size="12" text-anchor="start" font-weight="normal" font-family='"Liberation Sans","Noto Sans CJK SC",sans-serif' letter-spacing="0.15">0.2090</text>
<text x="67.6" y="402.8" fill="#20202c" font-size="12" text-anchor="end" font-weight="normal" font-family='"Liberation Sans","Noto Sans CJK SC",sans-serif' letter-spacing="0.15">-0.0348</text>
<text x="735" y="402.8" fill="#20202c" font-size="12" text-anchor="start" font-weight="normal" font-family='"Liberation Sans","Noto Sans CJK SC",sans-serif' letter-spacing="0.15">-0.0348</text>
<text x="67.6" y="453.8" fill="#20202c" font-size="12" text-anchor="end" font-weight="normal" font-family='"Liberation Sans","Noto Sans CJK SC",sans-serif' letter-spacing="0.15">80.0000</text>
<text x="735" y="453.8" fill="#20202c" font-size="12" text-anchor="start" font-weight="normal" font-family='"Liberation Sans","Noto Sans CJK SC",sans-serif' letter-spacing="0.15">80.0000</text>
<text x="67.6" y="476.8" fill="#20202c" font-size="12" text-anchor="end" font-weight="normal" font-family='"Liberation Sans","Noto Sans CJK SC",sans-serif' letter-spacing="0.15">60.0000</text>
<text x="735" y="476.8" fill="#20202c" font-size="12" text-anchor="start" font-weight="normal" font-family='"Liberation Sans","Noto Sans CJK SC",sans-serif' letter-spacing="0.15">60.0000</text>
<text x="67.6" y="499.8" fill="#20202c" font-size="12" text-anchor="end" font-weight="normal" font-family='"Liberation Sans","Noto Sans CJK SC",sans-serif' letter-spacing="0.15">40.0000</text>
<text x="735" y="499.8" fill="#20202c" font-size="12" text-anchor="start" font-weight="normal" font-family='"Liberation Sans","Noto Sans CJK SC",sans-serif' letter-spacing="0.15">40.0000</text>
<text x="734.5" y="222.3" fill="#ff8000" font-size="12" text-anchor="start" font-weight="normal" font-family='"Liberation Sans","Noto Sans CJK SC",sans-serif' letter-spacing="0.15">99.0544</text>
<text x="730.6" y="231.5" fill="#ff0000" font-size="12" text-anchor="end" font-weight="normal" font-family='"Liberation Sans","Noto Sans CJK SC",sans-serif' letter-spacing="0.15">98.7650</text>
<text x="730.6" y="250.5" fill="#ff0000" font-size="12" text-anchor="end" font-weight="normal" font-family='"Liberation Sans","Noto Sans CJK SC",sans-serif' letter-spacing="0.15">98.5650</text>
<text x="730.6" y="274.5" fill="#ff0000" font-size="12" text-anchor="end" font-weight="normal" font-family='"Liberation Sans","Noto Sans CJK SC",sans-serif' letter-spacing="0.15">98.3070</text>
<text x="263.8" y="85.6" fill="#e8435c" font-size="12" text-anchor="start" font-weight="bold" font-family='"Liberation Sans","Noto Sans CJK SC",sans-serif'>100.3599</text>
<text x="444.4" y="82.6" fill="#e8435c" font-size="12" text-anchor="start" font-weight="bold" font-family='"Liberation Sans","Noto Sans CJK SC",sans-serif'>100.3900</text>
<text x="579.5" y="247.7" fill="#5f9a7c" font-size="12" text-anchor="start" font-weight="bold" font-family='"Liberation Sans","Noto Sans CJK SC",sans-serif'>98.7650</text>
<text x="73" y="14.6" fill="#000" font-size="12" text-anchor="start" font-weight="normal" font-family='"Noto Sans CJK SC",sans-serif' textLength="48" lengthAdjust="spacingAndGlyphs">美元指数</text>
<text x="121" y="15.2" fill="#ff7f00" font-size="12" text-anchor="start" font-weight="normal" font-family='"Noto Sans CJK SC",sans-serif' textLength="48" lengthAdjust="spacingAndGlyphs">【日线】</text>
<text x="201" y="14" fill="#000" font-size="12" text-anchor="start" font-weight="normal" font-family='"Liberation Sans","Noto Sans CJK SC",sans-serif' textLength="105" lengthAdjust="spacingAndGlyphs">MA(0,50,0,200,0,0)</text>
<text x="311.7" y="14" fill="#3d8ff0" font-size="12" text-anchor="start" font-weight="normal" font-family='"Liberation Sans","Noto Sans CJK SC",sans-serif' textLength="74.3" lengthAdjust="spacingAndGlyphs">MA0:99.0544</text>
<text x="394.5" y="14" fill="#4cc488" font-size="12" text-anchor="start" font-weight="normal" font-family='"Liberation Sans","Noto Sans CJK SC",sans-serif' textLength="80.5" lengthAdjust="spacingAndGlyphs">MA50:99.2225</text>
<text x="485" y="14" fill="#3aa8e6" font-size="12" text-anchor="start" font-weight="normal" font-family='"Liberation Sans","Noto Sans CJK SC",sans-serif' textLength="73.75" lengthAdjust="spacingAndGlyphs">MA0:99.0544</text>
<text x="567.5" y="14" fill="#ff8a3c" font-size="12" text-anchor="start" font-weight="normal" font-family='"Liberation Sans","Noto Sans CJK SC",sans-serif' textLength="26.25" lengthAdjust="spacingAndGlyphs">MA2</text>
<text x="73.3" y="336" fill="#000" font-size="12" text-anchor="start" font-weight="normal" font-family='"Liberation Sans","Noto Sans CJK SC",sans-serif' textLength="85.3" lengthAdjust="spacingAndGlyphs">MACD(26,12,9)</text>
<text x="164" y="336" fill="#3d8ff0" font-size="12" text-anchor="start" font-weight="normal" font-family='"Liberation Sans","Noto Sans CJK SC",sans-serif' textLength="69.6" lengthAdjust="spacingAndGlyphs">DIFF:-0.0664</text>
<text x="242.2" y="336" fill="#4cc488" font-size="12" text-anchor="start" font-weight="normal" font-family='"Liberation Sans","Noto Sans CJK SC",sans-serif' textLength="64.8" lengthAdjust="spacingAndGlyphs">DEA:0.0293</text>
<text x="316" y="336" fill="#4aaeea" font-size="12" text-anchor="start" font-weight="normal" font-family='"Liberation Sans","Noto Sans CJK SC",sans-serif' textLength="77.4" lengthAdjust="spacingAndGlyphs">MACD:-0.1913</text>
<text x="73.3" y="443" fill="#000" font-size="12" text-anchor="start" font-weight="normal" font-family='"Liberation Sans","Noto Sans CJK SC",sans-serif' textLength="74.2" lengthAdjust="spacingAndGlyphs">RSI(14,14,14)</text>
<text x="152.4" y="443" fill="#3d8ff0" font-size="12" text-anchor="start" font-weight="normal" font-family='"Liberation Sans","Noto Sans CJK SC",sans-serif' textLength="73.3" lengthAdjust="spacingAndGlyphs">RSI1:43.8843</text>
<text x="234.4" y="443" fill="#4cc488" font-size="12" text-anchor="start" font-weight="normal" font-family='"Liberation Sans","Noto Sans CJK SC",sans-serif' textLength="73" lengthAdjust="spacingAndGlyphs">RSI2:43.8843</text>
<text x="316.4" y="443" fill="#3aa8e6" font-size="12" text-anchor="start" font-weight="normal" font-family='"Liberation Sans","Noto Sans CJK SC",sans-serif' textLength="72.9" lengthAdjust="spacingAndGlyphs">RSI3:43.8843</text>
<text x="398.5" y="443" fill="#b0b0b0" font-size="12" text-anchor="start" font-weight="normal" font-family='"Liberation Sans","Noto Sans CJK SC",sans-serif' textLength="68" lengthAdjust="spacingAndGlyphs">L20:20.0000</text>
<text x="474.8" y="443" fill="#b0b0b0" font-size="12" text-anchor="start" font-weight="normal" font-family='"Liberation Sans","Noto Sans CJK SC",sans-serif' textLength="67.2" lengthAdjust="spacingAndGlyphs">L30:30.0000</text>
<text x="550.2" y="443" fill="#b0b0b0" font-size="12" text-anchor="start" font-weight="normal" font-family='"Liberation Sans","Noto Sans CJK SC",sans-serif' textLength="67.5" lengthAdjust="spacingAndGlyphs">L50:50.0000</text>
<text x="626.4" y="443" fill="#b0b0b0" font-size="12" text-anchor="start" font-weight="normal" font-family='"Liberation Sans","Noto Sans CJK SC",sans-serif' textLength="28.8" lengthAdjust="spacingAndGlyphs">L70:7</text>
<text x="231.2" y="532" fill="#1e1e2a" font-size="12" text-anchor="start" font-weight="bold" font-family='"Liberation Sans","Noto Sans CJK SC",sans-serif' textLength="43.4" lengthAdjust="spacingAndGlyphs">2025/11</text>
<text x="531.2" y="532" fill="#1e1e2a" font-size="12" text-anchor="start" font-weight="bold" font-family='"Liberation Sans","Noto Sans CJK SC",sans-serif' textLength="44.2" lengthAdjust="spacingAndGlyphs">2025/12</text>
<text x="14.9" y="534.4" fill="#ff7a00" font-size="13" text-anchor="start" font-weight="bold" font-family='"Noto Sans CJK SC",sans-serif'>日线</text>
<text x="672.5" y="514.5" fill="#b49880" font-size="30.5" text-anchor="start" font-weight="normal" font-family='"Liberation Sans","Noto Sans CJK SC",sans-serif' opacity="0.75" letter-spacing="2.2">FX678</text>
<text x="671" y="513" fill="#dce8f6" font-size="30.5" text-anchor="start" font-weight="normal" font-family='"Liberation Sans","Noto Sans CJK SC",sans-serif' letter-spacing="2.2">FX678</text>
</g>
</svg>
</body></html>
